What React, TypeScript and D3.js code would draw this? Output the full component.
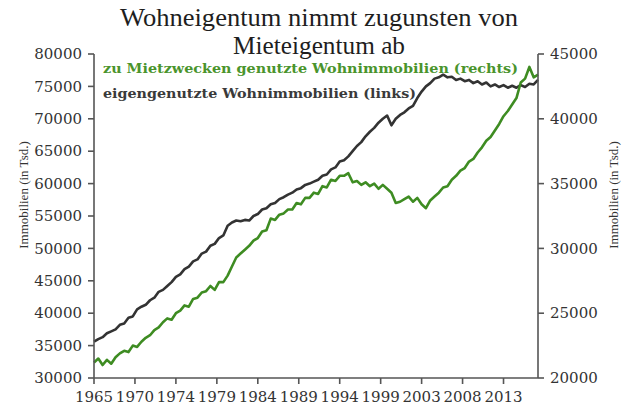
import React from 'react';
import * as d3 from 'd3';

// Half-yearly observations starting 1965 (values in thousands)
const START_YEAR = 1965;
const STEP_YEARS = 0.5;

// eigengenutzte Wohnimmobilien (links), thousands
const ownerOccupied = [
  35.6, 36.0, 36.3, 36.9, 37.2, 37.5, 38.2, 38.4, 39.3, 39.5,
  40.6, 41.0, 41.3, 42.0, 42.4, 43.3, 43.6, 44.2, 44.8, 45.6,
  46.0, 46.8, 47.2, 48.0, 48.3, 49.2, 49.5, 50.4, 50.7, 51.6,
  52.0, 53.5, 54.0, 54.3, 54.2, 54.4, 54.3, 55.0, 55.3, 56.0,
  56.2, 56.8, 57.0, 57.6, 57.9, 58.3, 58.6, 59.1, 59.3, 59.8,
  60.0, 60.3, 60.6, 61.2, 61.4, 62.2, 62.5, 63.4, 63.6, 64.2,
  65.0, 65.8, 66.4, 67.3, 68.0, 68.6, 69.4, 70.0, 70.5, 69.0,
  70.0, 70.6, 71.0, 71.6, 72.0, 73.2, 74.2, 75.0, 75.5, 76.2,
  76.4, 76.8, 76.4, 76.5, 76.0, 76.2, 75.8, 76.0, 75.5, 75.8,
  75.3, 75.6, 75.0, 75.3, 74.9, 75.2, 74.8, 75.1, 74.8, 75.2,
  74.9, 75.4, 75.3, 76.0,
];

// zu Mietzwecken genutzte Wohnimmobilien (rechts), thousands
const rental = [
  21.2, 21.5, 21.0, 21.4, 21.1, 21.6, 21.9, 22.1, 22.0, 22.5,
  22.4, 22.8, 23.1, 23.3, 23.7, 23.9, 24.3, 24.6, 24.5, 25.0,
  25.2, 25.6, 25.5, 26.1, 26.2, 26.6, 26.7, 27.1, 26.8, 27.4,
  27.4, 27.9, 28.6, 29.3, 29.6, 29.9, 30.2, 30.6, 30.8, 31.3,
  31.4, 32.3, 32.2, 32.6, 32.7, 33.0, 33.0, 33.5, 33.4, 33.9,
  33.9, 34.3, 34.2, 34.8, 34.7, 35.3, 35.2, 35.6, 35.6, 35.8,
  35.1, 35.2, 34.9, 35.1, 34.8, 35.0, 34.6, 34.9, 34.6, 34.3,
  33.5, 33.6, 33.8, 34.0, 33.6, 33.9, 33.4, 33.1, 33.7, 34.0,
  34.3, 34.7, 34.8, 35.3, 35.6, 36.0, 36.2, 36.7, 36.9, 37.4,
  37.8, 38.3, 38.6, 39.1, 39.6, 40.2, 40.6, 41.1, 41.6, 42.8,
  43.1, 44.0, 43.2, 43.4,
];

const leftTicks = [30000, 35000, 40000, 45000, 50000, 55000, 60000, 65000, 70000, 75000, 80000];
const rightTicks = [20000, 25000, 30000, 35000, 40000, 45000];
const xTickLabels = ['1965', '1970', '1974', '1979', '1984', '1989', '1994', '1999', '2003', '2008', '2013'];
const X_TICK_STEP_YEARS = 4.75; // one tick every 19 quarters

const titleLines = ['Wohneigentum nimmt zugunsten von', 'Mieteigentum ab'];
const legendRental = 'zu Mietzwecken genutzte Wohnimmobilien (rechts)';
const legendOwner = 'eigengenutzte Wohnimmobilien (links)';
const axisTitle = 'Immobilien (in Tsd.)';

const GREEN = '#3e8c22';
const GREEN_TEXT = '#4a942c';
const DARK = '#333333';
const AXIS = '#555555';

export default function App() {
  const left = 94;
  const right = 538;
  const top = 54;
  const bottom = 378;

  const endYear = START_YEAR + (ownerOccupied.length - 1) * STEP_YEARS;
  const x = d3.scaleLinear().domain([START_YEAR, endYear]).range([left, right]);
  const yL = d3.scaleLinear().domain([30000, 80000]).range([bottom, top]);
  const yR = d3.scaleLinear().domain([20000, 45000]).range([bottom, top]);

  const ownerLine = d3
    .line<number>()
    .x((_, i) => x(START_YEAR + i * STEP_YEARS))
    .y((v) => yL(v * 1000));
  const rentalLine = d3
    .line<number>()
    .x((_, i) => x(START_YEAR + i * STEP_YEARS))
    .y((v) => yR(v * 1000));

  const tickFont = 'DejaVu Serif';
  const tickSize = 15;

  return (
    <svg
      width={633}
      height={412}
      style={{ position: 'absolute', left: 0, top: 0, background: '#fff' }}
    >
      <rect width={633} height={412} fill="#fff" />
      {/* Title */}
      {titleLines.map((t, i) => (
        <text
          key={t}
          x={319}
          y={26 + i * 28}
          textAnchor="middle"
          fontFamily="Liberation Serif"
          fontSize={25}
          fill="#1e1e1e"
          textLength={i === 0 ? 398 : 172}
          lengthAdjust="spacingAndGlyphs"
        >
          {t}
        </text>
      ))}

      {/* Lines */}
      <path d={ownerLine(ownerOccupied) || ''} fill="none" stroke={DARK} strokeWidth={2.6} strokeLinejoin="round" />
      <path d={rentalLine(rental) || ''} fill="none" stroke={GREEN} strokeWidth={2.6} strokeLinejoin="round" />

      {/* Left axis */}
      <line x1={left} x2={left} y1={top} y2={bottom} stroke={AXIS} strokeWidth={1.6} />
      {leftTicks.map((t) => (
        <g key={'l' + t}>
          <line x1={left - 6} x2={left} y1={yL(t)} y2={yL(t)} stroke={AXIS} strokeWidth={1.6} />
          <text
            x={left - 12}
            y={yL(t)}
            dy="0.35em"
            textAnchor="end"
            fontFamily={tickFont}
            fontSize={tickSize}
            fill="#333"
          >
            {t}
          </text>
        </g>
      ))}

      {/* Right axis */}
      <line x1={right} x2={right} y1={top} y2={bottom} stroke={AXIS} strokeWidth={1.6} />
      {rightTicks.map((t) => (
        <g key={'r' + t}>
          <line x1={right} x2={right + 6} y1={yR(t)} y2={yR(t)} stroke={AXIS} strokeWidth={1.6} />
          <text
            x={right + 12}
            y={yR(t)}
            dy="0.35em"
            textAnchor="start"
            fontFamily={tickFont}
            fontSize={tickSize}
            fill="#333"
          >
            {t}
          </text>
        </g>
      ))}

      {/* Bottom axis */}
      <line x1={left} x2={right} y1={bottom} y2={bottom} stroke={AXIS} strokeWidth={1.6} />
      {xTickLabels.map((lab, i) => {
        const px = x(START_YEAR + i * X_TICK_STEP_YEARS);
        return (
          <g key={lab}>
            <line x1={px} x2={px} y1={bottom} y2={bottom + 6} stroke={AXIS} strokeWidth={1.6} />
            <text
              x={px}
              y={bottom + 24}
              textAnchor="middle"
              fontFamily={tickFont}
              fontSize={tickSize}
              fill="#333"
            >
              {lab}
            </text>
          </g>
        );
      })}

      {/* Axis titles */}
      <text
        transform={`translate(23, 195) rotate(-90)`}
        textAnchor="middle"
        dy="0.35em"
        fontFamily="Liberation Serif"
        fontSize={13}
        fill="#333"
      >
        {axisTitle}
      </text>
      <text
        transform={`translate(613, 195) rotate(-90)`}
        textAnchor="middle"
        dy="0.35em"
        fontFamily="Liberation Serif"
        fontSize={13}
        fill="#333"
      >
        {axisTitle}
      </text>

      {/* Legend */}
      <text
        x={103}
        y={73}
        fontFamily="DejaVu Serif"
        fontWeight="bold"
        fontSize={13.5}
        fill={GREEN_TEXT}
        textLength={415}
        lengthAdjust="spacingAndGlyphs"
      >
        {legendRental}
      </text>
      <text
        x={103}
        y={98}
        fontFamily="DejaVu Serif"
        fontWeight="bold"
        fontSize={13.5}
        fill="#3a3a3a"
        textLength={313}
        lengthAdjust="spacingAndGlyphs"
      >
        {legendOwner}
      </text>
    </svg>
  );
}
